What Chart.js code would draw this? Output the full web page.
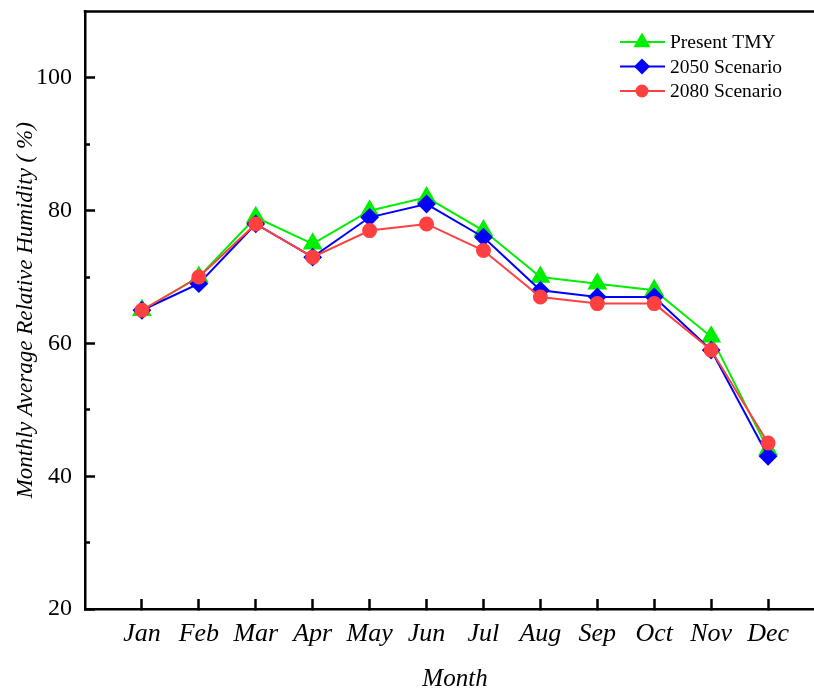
<!DOCTYPE html>
<html>
<head>
<meta charset="utf-8">
<title>Monthly Average Relative Humidity</title>
<script src="https://cdn.jsdelivr.net/npm/chart.js@4"></script>
<style>
  html, body { margin: 0; padding: 0; background: #fff; overflow: hidden; }
  #wrap { width: 840px; height: 688px; }
</style>
</head>
<body>
<div id="wrap"><canvas id="humidityChart" width="840" height="688"></canvas></div>
<script>
// data
const months = ['Jan', 'Feb', 'Mar', 'Apr', 'May', 'Jun', 'Jul', 'Aug', 'Sep', 'Oct', 'Nov', 'Dec'];
const presentTMY = [65, 70, 79, 75, 80, 82, 77, 70, 69, 68, 61, 44];
const scenario2050 = [65, 69, 78, 73, 79, 81, 76, 68, 67, 67, 59, 43];
const scenario2080 = [65, 70, 78, 73, 77, 78, 74, 67, 66, 66, 59, 45];
const yMajorTicks = [20, 40, 60, 80, 100];
const yMinorTicks = [30, 50, 70, 90];

const SERIF = "'Liberation Serif', 'Times New Roman', serif";
const toPoints = arr => arr.map((v, i) => ({ x: i + 1, y: v }));
const noPad = s => { s.paddingTop = 0; s.paddingBottom = 0; s.paddingLeft = 0; s.paddingRight = 0; };

// top/right frame lines (Origin style box)
const framePlugin = {
  id: 'frame',
  afterDraw(chart) {
    const { ctx, chartArea: a } = chart;
    ctx.save();
    ctx.strokeStyle = '#000';
    ctx.lineWidth = 2.5;
    ctx.beginPath();
    ctx.moveTo(a.left - 1.25, a.top);
    ctx.lineTo(a.right, a.top);
    ctx.lineTo(a.right, a.bottom);
    ctx.stroke();
    ctx.restore();
  }
};

// legend with line + marker like the original
const legendPlugin = {
  id: 'lineLegend',
  afterDraw(chart) {
    const ctx = chart.ctx;
    ctx.save();
    chart.data.datasets.forEach((ds, i) => {
      const y = 42 + i * 24.5;
      ctx.strokeStyle = ds.borderColor;
      ctx.fillStyle = ds.pointBackgroundColor;
      ctx.lineWidth = 2;
      ctx.beginPath();
      ctx.moveTo(620, y);
      ctx.lineTo(665, y);
      ctx.stroke();
      const cx = 642, r = ds.pointRadius;
      ctx.beginPath();
      if (ds.pointStyle === 'triangle') {
        ctx.moveTo(cx, y - r);
        ctx.lineTo(cx + r * 0.9, y + r * 0.55);
        ctx.lineTo(cx - r * 0.9, y + r * 0.55);
      } else if (ds.pointStyle === 'rectRot') {
        ctx.moveTo(cx, y - r);
        ctx.lineTo(cx + r, y);
        ctx.lineTo(cx, y + r);
        ctx.lineTo(cx - r, y);
      } else {
        ctx.arc(cx, y, r, 0, Math.PI * 2);
      }
      ctx.closePath();
      ctx.fill();
      ctx.fillStyle = '#000';
      ctx.font = '19.5px ' + SERIF;
      ctx.textBaseline = 'middle';
      ctx.textAlign = 'left';
      ctx.fillText(ds.label, 670, y + 1);
    });
    ctx.restore();
  }
};

const ctx = document.getElementById('humidityChart').getContext('2d');
new Chart(ctx, {
  type: 'line',
  data: {
    datasets: [
      {
        label: 'Present TMY',
        data: toPoints(presentTMY),
        borderColor: '#00ee00',
        backgroundColor: '#00ee00',
        pointBackgroundColor: '#00ee00',
        pointBorderColor: '#00ee00',
        pointStyle: 'triangle',
        pointRadius: 9.5,
        borderWidth: 2,
        order: 3
      },
      {
        label: '2050 Scenario',
        data: toPoints(scenario2050),
        borderColor: '#0000ff',
        backgroundColor: '#0000ff',
        pointBackgroundColor: '#0000ff',
        pointBorderColor: '#0000ff',
        pointStyle: 'rectRot',
        pointRadius: 8,
        borderWidth: 2,
        order: 2
      },
      {
        label: '2080 Scenario',
        data: toPoints(scenario2080),
        borderColor: '#ff4040',
        backgroundColor: '#ff4040',
        pointBackgroundColor: '#ff4040',
        pointBorderColor: '#ff4040',
        pointStyle: 'circle',
        pointRadius: 6.5,
        borderWidth: 2,
        order: 1
      }
    ]
  },
  options: {
    responsive: false,
    animation: false,
    devicePixelRatio: 1,
    layout: { padding: { top: 11, right: 15, left: 0, bottom: 0 } },
    plugins: {
      legend: { display: false },
      tooltip: { enabled: false }
    },
    scales: {
      x: {
        type: 'linear',
        position: 'bottom',
        min: 0,
        max: 13,
        afterBuildTicks: s => { s.ticks = months.map((m, i) => ({ value: i + 1 })); },
        afterFit: s => { s.height = 79; noPad(s); },
        ticks: {
          callback: v => months[v - 1] || '',
          autoSkip: false,
          maxRotation: 0,
          padding: 20,
          color: '#000',
          font: { family: SERIF, size: 26, style: 'italic' }
        },
        grid: { drawOnChartArea: false, tickLength: -10, tickWidth: 2.5, tickColor: '#000' },
        border: { color: '#000', width: 2.5 },
        title: {
          display: true,
          text: 'Month',
          color: '#000',
          padding: { top: 0, bottom: -4 },
          font: { family: SERIF, size: 25, style: 'italic', lineHeight: 1 }
        }
      },
      y: {
        type: 'linear',
        position: 'left',
        weight: 1,
        min: 20,
        max: 110,
        afterBuildTicks: s => { s.ticks = yMajorTicks.map(v => ({ value: v })); },
        afterFit: s => { s.width = 85; noPad(s); },
        ticks: {
          padding: 23,
          color: '#000',
          font: { family: SERIF, size: 24 }
        },
        grid: { drawOnChartArea: false, tickLength: -10, tickWidth: 2.5, tickColor: '#000' },
        border: { color: '#000', width: 2.5 },
        title: {
          display: true,
          text: 'Monthly Average Relative Humidity ( %)',
          color: '#000',
          padding: { top: 14, bottom: 0 },
          font: { family: SERIF, size: 23, style: 'italic', lineHeight: 1 }
        }
      },
      yMinor: {
        type: 'linear',
        position: 'left',
        weight: 0,
        min: 20,
        max: 110,
        afterBuildTicks: s => { s.ticks = yMinorTicks.map(v => ({ value: v })); },
        afterFit: s => { s.width = 0; noPad(s); },
        ticks: { display: false },
        grid: { drawOnChartArea: false, tickLength: -5, tickWidth: 2.5, tickColor: '#000' },
        border: { display: false }
      }
    }
  },
  plugins: [framePlugin, legendPlugin]
});
</script>
</body>
</html>
